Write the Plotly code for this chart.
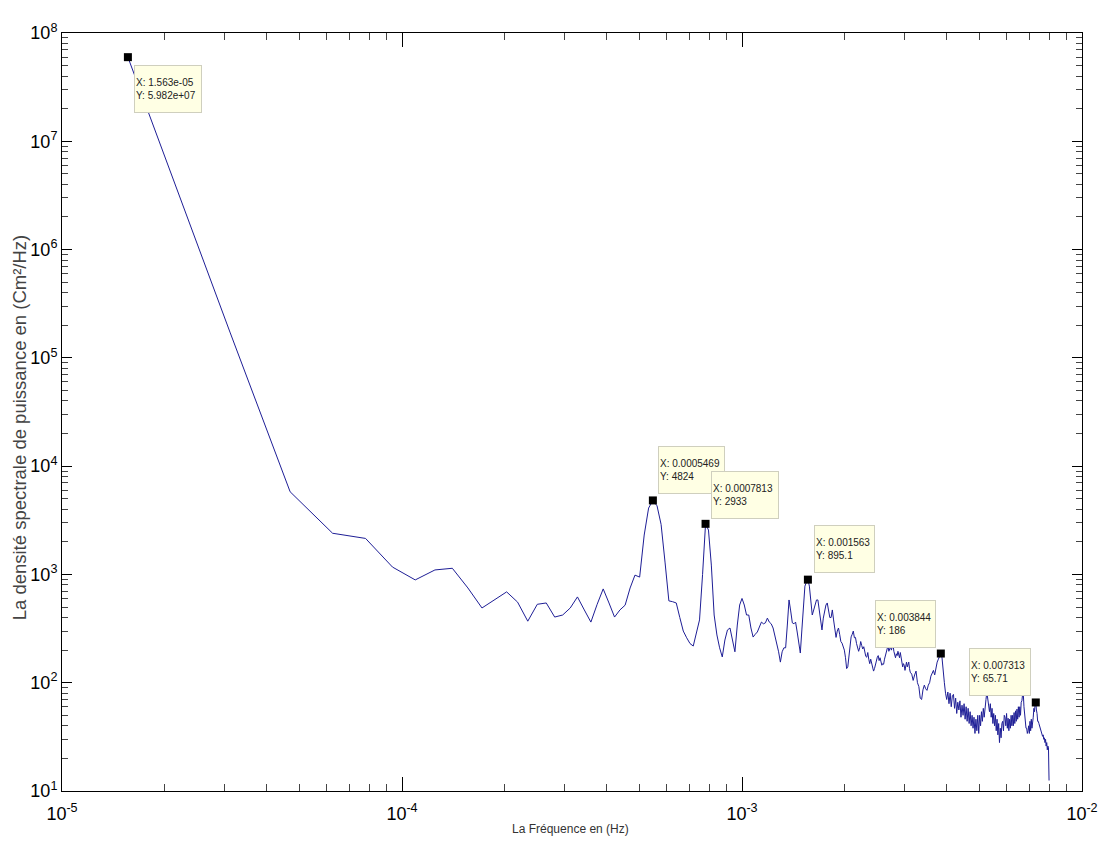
import math
import plotly.graph_objects as go

# ---------------- data ----------------
df = 1.5625e-05  # frequency resolution (Hz)

bins = list(range(1, 201)) + list(range(202, 511, 2)) + [512]

psd = [
    # k = 1 .. 10
    5.982e7, 1.7e5, 5800, 2400, 2150, 1170, 890, 1100, 1140, 750,
    # 11 .. 20
    490, 580, 690, 555, 370, 530, 545, 404, 422, 490,
    # 21 .. 30
    620, 470, 363, 530, 735, 545, 404, 470, 520, 750,
    # 31 .. 40
    985, 945, 2310, 4100, 4824, 4300, 2900, 1300, 570, 560,
    # 41 .. 50
    545, 400, 300, 260, 230, 218, 290, 380, 1000, 2933,
    # 51 .. 60
    2570, 1220, 422, 276, 210, 173, 248, 307, 320, 248,
    # 61 .. 70
    193, 341, 522, 600, 522, 422, 422, 320, 264, 280,
    # 71 .. 80
    294, 327, 363, 350, 357, 395, 363, 350, 320, 270,
    # 81 .. 90
    232, 193, 155, 193, 210, 210, 341, 581, 460, 357,
    # 91 .. 100
    350, 363, 294, 223, 188, 307, 522, 780, 845, 895.1,
    # 101 .. 110
    780, 581, 422, 469, 522, 581, 581, 460, 363, 307,
    # 111 .. 120
    395, 469, 522, 545, 470, 400, 400, 470, 380, 300,
    # 121 .. 130
    262, 300, 320, 280, 240, 232, 215, 200, 170, 135,
    # 131 .. 140
    140, 175, 230, 265, 280, 300, 260, 262, 230, 215,
    # 141 .. 150
    195, 210, 240, 220, 205, 215, 190, 175, 172, 190,
    # 151 .. 160
    165, 150, 165, 150, 138, 128, 135, 150, 165, 172,
    # 161 .. 170
    178, 160, 170, 155, 145, 150, 148, 165, 180, 200,
    # 171 .. 180
    210, 220, 195, 205, 215, 200, 210, 225, 195, 180,
    # 181 .. 190
    170, 185, 178, 195, 180, 170, 190, 165, 150, 140,
    # 191 .. 200
    150, 145, 130, 145, 155, 140, 150, 155, 135, 125,
    # 202 .. 220 (step 2)
    120, 105, 118, 128, 100, 92, 72, 70, 86, 95,
    # 222 .. 240
    88, 85, 95, 100, 115, 125, 130, 118, 140, 155,
    # 242 .. 260
    165, 178, 186, 170, 120, 100, 80, 70, 82, 64,
    # 262 .. 280
    80, 60, 76, 78, 58, 72, 52, 66, 56, 68,
    # 282 .. 300
    48, 62, 50, 64, 46, 60, 44, 58, 42, 54,
    # 302 .. 308
    40, 50, 38, 48,
    # 310 .. 328
    34, 46, 36, 50, 34, 50, 40, 54, 44, 58,
    # 330 .. 348
    48, 64, 70, 82, 68, 66, 54, 64, 48, 58,
    # 350 .. 368
    42, 52, 40, 50, 36, 46, 33, 42, 28, 38,
    # 370 .. 388
    31, 42, 44, 36, 50, 48, 40, 52, 38, 47,
    # 390 .. 408
    36, 46, 38, 50, 40, 50, 40, 53, 42, 55,
    # 410 .. 428
    44, 57, 46, 60, 48, 60, 50, 66, 68, 78,
    # 430 .. 448
    80, 60, 48, 46, 38, 38, 34, 36, 40, 34,
    # 450 .. 468
    44, 36, 46, 38, 48, 48, 58, 54, 64, 65.71,
    # 470 .. 488
    56, 52, 44, 44, 42, 40, 38, 37, 34, 34,
    # 490 .. 508
    32, 33, 30, 31, 28, 30, 26, 28, 24, 26,
    # 510, 512
    25, 12.5,
]

if len(bins) != len(psd):
    raise ValueError("bins/psd length mismatch: %d vs %d" % (len(bins), len(psd)))

freq = [k * df for k in bins]

# data tips
tip_bins = [1, 35, 50, 100, 246, 468]
tip_text_x = ["1.563e-05", "0.0005469", "0.0007813", "0.001563", "0.003844", "0.007313"]
tip_text_y = ["5.982e+07", "4824", "2933", "895.1", "186", "65.71"]

# axis ticks
x_tickvals = [1e-5, 1e-4, 1e-3, 1e-2]
x_ticktext = ["10<sup>-5</sup>", "10<sup>-4</sup>", "10<sup>-3</sup>", "10<sup>-2</sup>"]
y_tickvals = [1e1, 1e2, 1e3, 1e4, 1e5, 1e6, 1e7, 1e8]
y_ticktext = ["10<sup>%d</sup>" % e for e in range(1, 9)]

x_title = "La Fréquence en (Hz)"
y_title = "La densité spectrale de puissance en (Cm²/Hz)"

# ---------------- figure ----------------
x_minor = [m * 10.0 ** e for e in range(-5, -2) for m in range(2, 10)]
y_minor = [m * 10.0 ** e for e in range(1, 8) for m in range(2, 10)]

tip_x = [freq[bins.index(k)] for k in tip_bins]
tip_y = [psd[bins.index(k)] for k in tip_bins]

fig = go.Figure()
fig.add_trace(go.Scatter(
    x=freq, y=psd, mode="lines",
    line=dict(color="rgb(30,30,150)", width=1),
    hoverinfo="skip", showlegend=False,
))
fig.add_trace(go.Scatter(
    x=tip_x, y=tip_y, mode="markers",
    marker=dict(symbol="square", size=8, color="black", line=dict(width=0)),
    hoverinfo="skip", showlegend=False,
))

# placement of the data-tip boxes relative to their points (style only)
tip_style = [
    dict(xanchor="left", yanchor="top", xshift=6, yshift=-8, width=64),
    dict(xanchor="left", yanchor="bottom", xshift=5, yshift=6, width=63),
    dict(xanchor="left", yanchor="bottom", xshift=5, yshift=5, width=64),
    dict(xanchor="left", yanchor="bottom", xshift=6, yshift=7, width=57),
    dict(xanchor="right", yanchor="bottom", xshift=-5, yshift=6, width=57),
    dict(xanchor="right", yanchor="bottom", xshift=-5, yshift=6, width=58),
]

annotations = []
for fx, fy, tx, ty, st in zip(tip_x, tip_y, tip_text_x, tip_text_y, tip_style):
    annotations.append(dict(
        x=math.log10(fx), y=math.log10(fy), xref="x", yref="y",
        text="X: %s<br>Y: %s" % (tx, ty),
        showarrow=False, align="left", valign="middle",
        xanchor=st["xanchor"], yanchor=st["yanchor"],
        xshift=st["xshift"], yshift=st["yshift"],
        width=st["width"], height=44,
        bgcolor="#FFFFE4", bordercolor="#CFCFBE", borderwidth=1, borderpad=1,
        font=dict(size=10, color="#222222"),
    ))

annotations.append(dict(
    x=0.499, y=-0.050, xref="paper", yref="paper", text=x_title,
    showarrow=False, xanchor="center", yanchor="middle",
    font=dict(size=12, color="#333333"),
))
annotations.append(dict(
    x=-0.042, y=0.480, xref="paper", yref="paper", text=y_title,
    showarrow=False, xanchor="center", yanchor="middle", textangle=-90,
    font=dict(size=18.5, color="#444444"),
))

# plot area spans x 62..1082, y 33..791 of the 1099x851 page
fig.update_layout(
    width=1099, height=851,
    margin=dict(l=62, r=17, t=33, b=60),
    paper_bgcolor="white", plot_bgcolor="white",
    showlegend=False,
    font=dict(family="Arial, Liberation Sans, sans-serif", color="black"),
    annotations=annotations,
)

fig.update_xaxes(
    type="log", range=[-5, -2], automargin=False,
    tickmode="array", tickvals=x_tickvals, ticktext=x_ticktext,
    ticks="inside", ticklen=14, tickwidth=1, tickcolor="black",
    showline=True, linecolor="black", linewidth=1, mirror="allticks",
    showgrid=False, zeroline=False, ticklabelstandoff=6,
    tickfont=dict(size=18, color="black"),
    minor=dict(tickmode="array", tickvals=x_minor, ticks="inside",
               ticklen=7, tickwidth=1, tickcolor="#444444", showgrid=False),
)
fig.update_yaxes(
    type="log", range=[1, 8], automargin=False,
    tickmode="array", tickvals=y_tickvals, ticktext=y_ticktext,
    ticks="inside", ticklen=10, tickwidth=1, tickcolor="black",
    showline=True, linecolor="black", linewidth=1, mirror="allticks",
    showgrid=False, zeroline=False,
    tickfont=dict(size=18, color="black"),
    minor=dict(tickmode="array", tickvals=y_minor, ticks="inside",
               ticklen=6, tickwidth=1, tickcolor="#444444", showgrid=False),
)

# remove the browser's default 8px page margin so the figure fills the window
fig.write_html(
    "out.html",
    config={"displayModeBar": False},
    post_script="document.body.style.margin='0px';",
)
